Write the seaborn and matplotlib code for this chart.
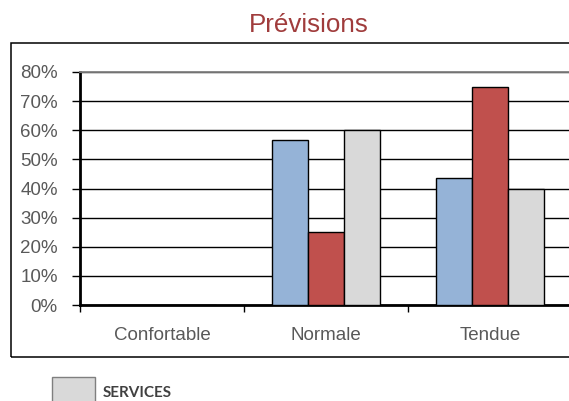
import matplotlib
matplotlib.use("Agg")
import matplotlib.pyplot as plt
import matplotlib.patches as mpatches
from matplotlib.ticker import PercentFormatter, FixedLocator
import seaborn as sns
import pandas as pd

# ---- data ----
categories = ["Confortable", "Normale", "Tendue"]
series_names = ["INDUSTRIE", "CONSTRUCTION", "SERVICES"]
industrie = [0.0, 56.5, 43.5]
construction = [0.0, 25.0, 75.0]
services = [0.0, 60.0, 40.0]
series_colors = ["#95B3D7", "#C0504D", "#D9D9D9"]
y_ticks = [0, 10, 20, 30, 40, 50, 60, 70, 80]
title_text = "Prévisions"
legend_label = "SERVICES"

rows = []
for name, vals in zip(series_names, [industrie, construction, services]):
    for c, v in zip(categories, vals):
        rows.append({"cat": c, "serie": name, "val": v})
df = pd.DataFrame(rows)

sns.set_style("white")
plt.rcParams["font.family"] = ["Liberation Sans", "DejaVu Sans"]

W, H = 569, 401
fig = plt.figure(figsize=(W / 100, H / 100), dpi=100)
ax = fig.add_axes([80 / W, 1 - 305 / H, 492 / W, (305 - 72) / H])

# outer chart frame
frame = mpatches.Rectangle((11 / W, 1 - 357 / H), 1.2, (357 - 43) / H,
                           transform=fig.transFigure, fill=False,
                           edgecolor="black", linewidth=1.1, zorder=0)
fig.patches.append(frame)

sns.barplot(data=df, x="cat", y="val", hue="serie", order=categories,
            hue_order=series_names, palette=series_colors, width=0.66,
            gap=0, edgecolor="black", linewidth=1.0, saturation=1,
            ax=ax, legend=False, zorder=3)

ax.set_xlim(-0.5, 2.5)
ax.set_ylim(0, 80)
ax.set_xlabel("")
ax.set_ylabel("")

ax.yaxis.set_major_locator(FixedLocator(y_ticks))
ax.yaxis.set_major_formatter(PercentFormatter(decimals=0))
ax.yaxis.grid(True, color="black", linewidth=1.0, zorder=0)
ax.set_axisbelow(True)

ax.tick_params(axis="y", direction="out", length=6, width=1.0, color="black",
               pad=10, labelsize=13.5, labelcolor="#595959", left=True)
ax.set_xticks(range(len(categories)))
ax.set_xticklabels(categories)
ax.set_xticks([-0.5, 0.5, 1.5, 2.5], minor=True)
ax.tick_params(axis="x", which="major", length=0, pad=16, labelsize=13.5,
               labelcolor="#595959")
ax.tick_params(axis="x", which="minor", direction="out", length=5, width=1.0,
               color="black", bottom=True)

for s in ["left", "bottom"]:
    ax.spines[s].set_color("black")
    ax.spines[s].set_linewidth(2.0)
ax.spines["top"].set_color("#808080")
ax.spines["top"].set_linewidth(1.3)
ax.spines["right"].set_visible(False)

fig.text(308.5 / W, 1 - 32 / H, title_text, ha="center", va="baseline",
         fontsize=18.7, color="#A03C3C")

# legend (only the visible entry)
leg_patch = mpatches.Rectangle((52 / W, 1 - 410 / H), 43 / W, 33 / H,
                               transform=fig.transFigure,
                               facecolor=series_colors[2], edgecolor="#7F7F7F",
                               linewidth=1.0)
fig.patches.append(leg_patch)
fig.text(103 / W, 1 - 397 / H, legend_label, ha="left", va="baseline",
         fontsize=11, fontweight="bold", color="#404040",
         family=["Lato", "DejaVu Sans"])

fig.savefig("out.png", dpi=100)
